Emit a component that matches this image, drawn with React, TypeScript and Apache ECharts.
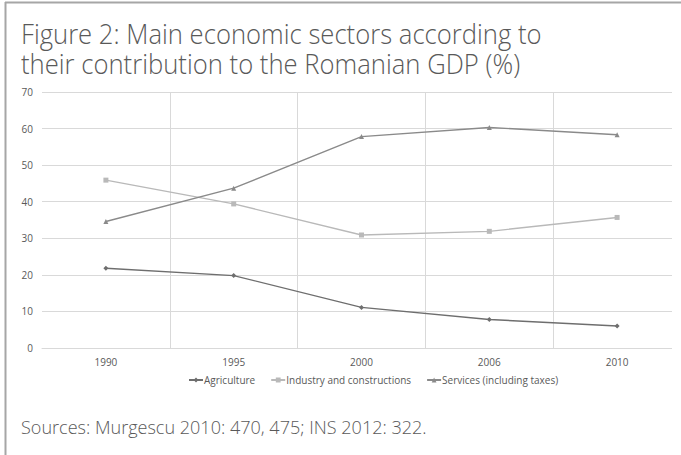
import React, { useEffect, useRef } from "react";
import * as echarts from "echarts";

const years = ["1990", "1995", "2000", "2006", "2010"];
const agriculture = [21.8, 19.8, 11.1, 7.8, 6.0];
const industry = [45.9, 39.4, 30.9, 31.9, 35.7];
const services = [34.6, 43.7, 57.8, 60.3, 58.3];
const seriesNames = ["Agriculture", "Industry and constructions", "Services (including taxes)"];

const titleLines = ["Figure 2: Main economic sectors according to", "their contribution to the Romanian GDP (%)"];
const sourceText = "Sources: Murgescu 2010: 470, 475; INS 2012: 322.";

const FONT = "'Open Sans', 'Noto Sans', sans-serif";

export default function App() {
  const ref = useRef<HTMLDivElement>(null);
  useEffect(() => {
    if (!ref.current) return;
    const chart = echarts.init(ref.current, null, { renderer: "svg" });
    const mk = (name: string, data: number[], color: string, symbol: string, size: number) => ({
      name,
      type: "line",
      data,
      symbol,
      symbolSize: size,
      showSymbol: true,
      lineStyle: { color, width: 1.4 },
      itemStyle: { color },
      emphasis: { disabled: true },
    });
    chart.setOption({
      animation: false,
      textStyle: { fontFamily: FONT },
      grid: { left: 42, top: 92, width: 655, bottom: 107, containLabel: false },
      xAxis: {
        type: "category",
        data: years,
        boundaryGap: true,
        axisLine: { show: true, lineStyle: { color: "#d9d9d9", width: 1 } },
        axisTick: { show: false },
        axisLabel: { color: "#595959", fontSize: 10, margin: 9, fontFamily: FONT },
        splitLine: { show: true, showMinLine: false, showMaxLine: false, lineStyle: { color: "#d9d9d9", width: 1 } },
      },
      yAxis: {
        type: "value",
        min: 0,
        max: 70,
        interval: 10,
        axisLine: { show: false },
        axisTick: { show: false },
        axisLabel: { color: "#595959", fontSize: 10, margin: 9, fontFamily: FONT },
        splitLine: { show: true, lineStyle: { color: "#d9d9d9", width: 1 } },
      },
      legend: {
        data: seriesNames,
        left: 183,
        top: 370,
        itemWidth: 14,
        itemHeight: 6,
        itemGap: 15,
        textStyle: { color: "#595959", fontSize: 10, fontFamily: FONT, padding: [0, 0, 0, -4] },
      },
      series: [
        mk(seriesNames[0], agriculture, "#6e6e6e", "diamond", 5),
        mk(seriesNames[1], industry, "#b9b9b9", "rect", 5),
        mk(seriesNames[2], services, "#8a8a8a", "triangle", 5),
      ],
      graphic: [
        { type: "rect", z: 100, shape: { x: 672, y: 85, width: 20, height: 270 }, style: { fill: "#ffffff" } },
        { type: "line", z: 100, shape: { x1: 5.5, y1: 2, x2: 5.5, y2: 455 }, style: { stroke: "#a6a6a6", lineWidth: 2 } },
        { type: "line", z: 100, shape: { x1: 5, y1: 2.5, x2: 681, y2: 2.5 }, style: { stroke: "#a6a6a6", lineWidth: 2 } },
        {
          type: "text", z: 100, x: 21, y: 34, scaleX: 0.95,
          style: { text: titleLines[0], fill: "#595959", font: `300 27px ${FONT}`, verticalAlign: "middle" },
        },
        {
          type: "text", z: 100, x: 21, y: 64, scaleX: 0.95,
          style: { text: titleLines[1], fill: "#595959", font: `300 27px ${FONT}`, verticalAlign: "middle" },
        },
        {
          type: "text", z: 100, x: 21, y: 426.5, scaleX: 0.95,
          style: { text: sourceText, fill: "#595959", font: `300 19px ${FONT}`, verticalAlign: "middle" },
        },
      ],
    });
    return () => chart.dispose();
  }, []);
  return (
    <div
      ref={ref}
      style={{ position: "fixed", left: 0, top: 0, width: 681, height: 455, background: "#ffffff" }}
    />
  );
}
